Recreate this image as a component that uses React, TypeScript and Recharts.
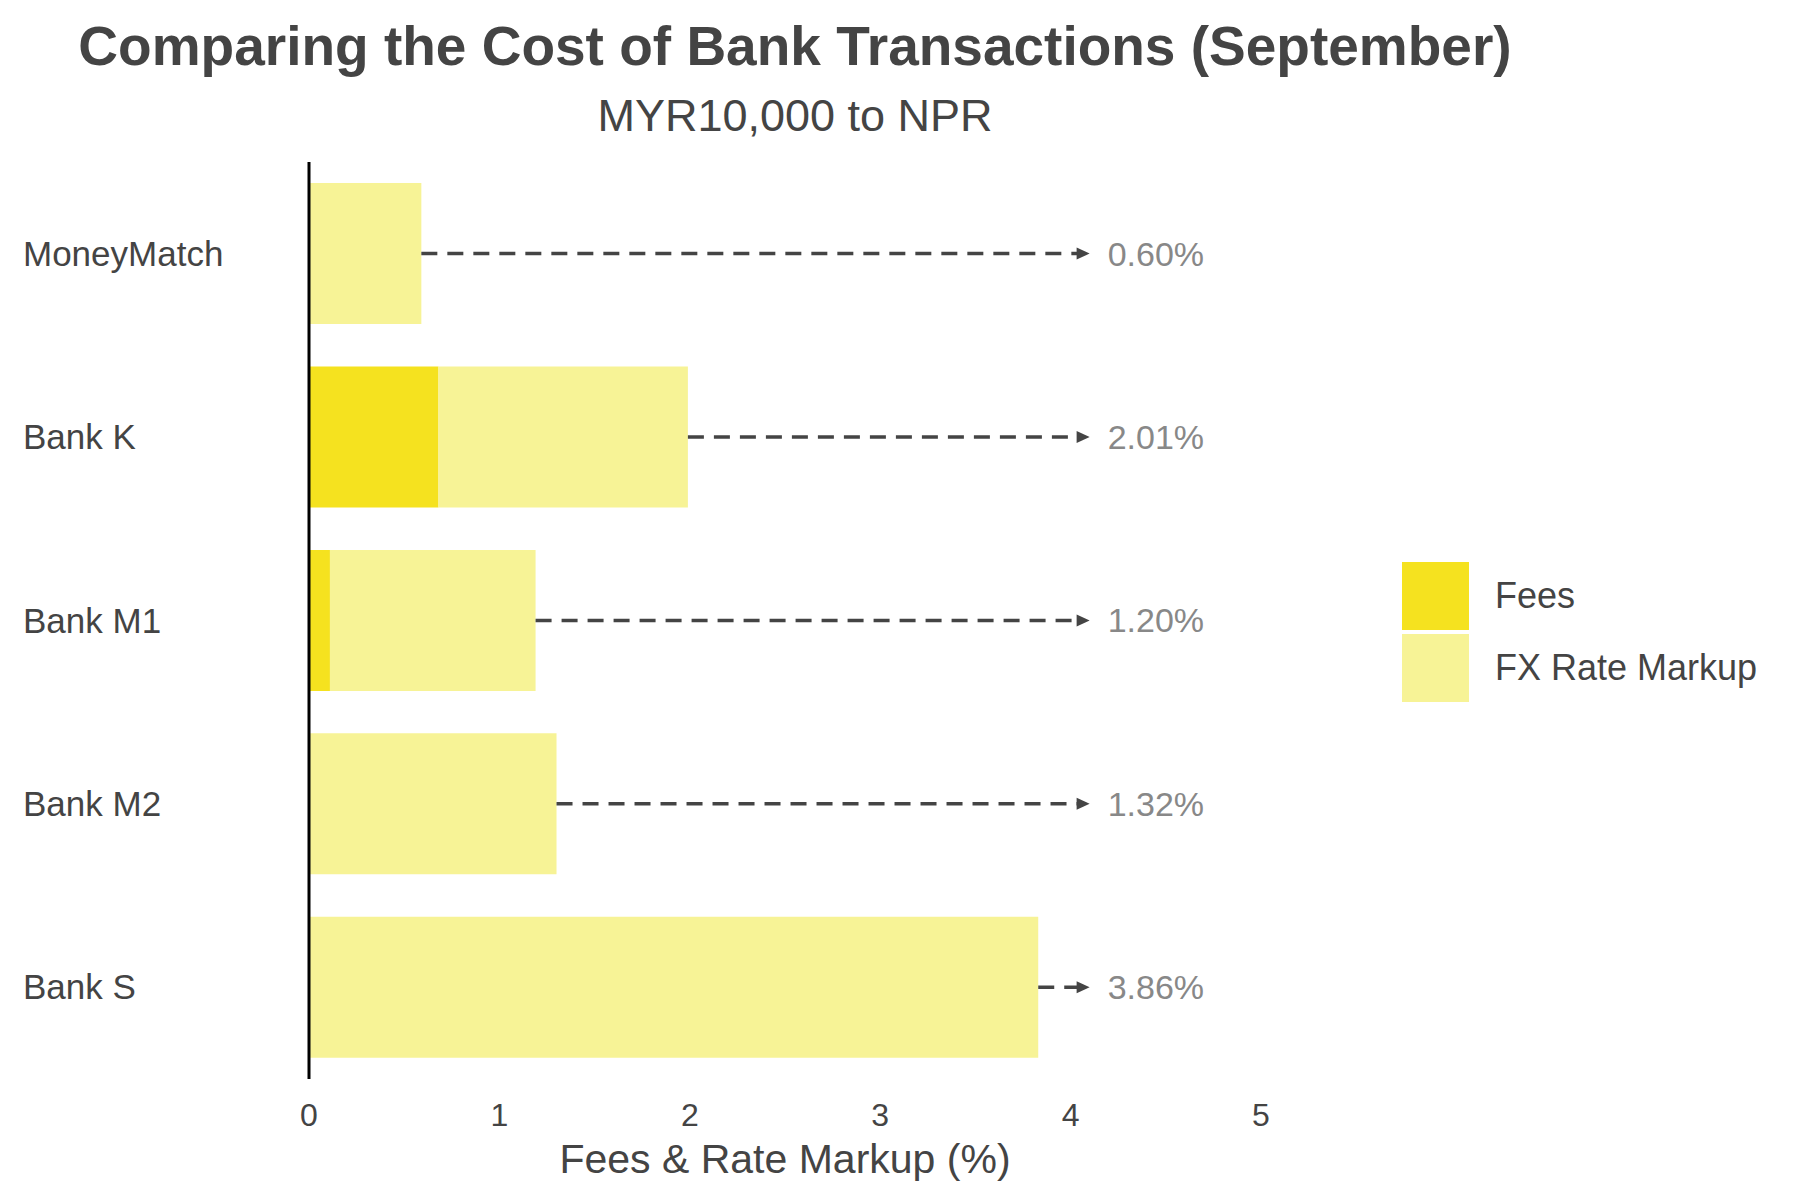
import React from "react";
import { BarChart, Bar, XAxis, YAxis } from "recharts";

const banks = ["MoneyMatch", "Bank K", "Bank M1", "Bank M2", "Bank S"];
const fees = [0, 0.68, 0.11, 0, 0];
const fxMarkup = [0.59, 1.31, 1.08, 1.3, 3.83];
const totalLabels = ["0.60%", "2.01%", "1.20%", "1.32%", "3.86%"];
const arrowEnd = 4.1;

const data = banks.map((name, i) => ({
  name,
  fees: fees[i],
  fx: fxMarkup[i],
  gap: arrowEnd - fees[i] - fxMarkup[i],
  label: totalLabels[i],
}));

const font = "'Liberation Sans', Arial, sans-serif";

const ArrowShape = (props: any) => {
  const { x, y, width, height, payload } = props;
  const cy = y + height / 2;
  const x2 = x + width;
  return (
    <g>
      <line x1={x} y1={cy} x2={x2 - 8} y2={cy} stroke="#444" strokeWidth={3.5} strokeDasharray="16 10" />
      <polygon points={`${x2},${cy} ${x2 - 13},${cy - 6} ${x2 - 13},${cy + 6}`} fill="#444" />
      <text x={x2 + 18} y={cy} dy={12} fontSize={34} fill="#888" fontFamily={font}>
        {payload.label}
      </text>
    </g>
  );
};

const YTick = (props: any) => {
  const { y, payload } = props;
  return (
    <text x={23} y={y} dy={12} fontSize={35} fill="#444" fontFamily={font}>
      {payload.value}
    </text>
  );
};

export default function App() {
  return (
    <div style={{ position: "absolute", left: 0, top: 0, width: 1800, height: 1200, background: "#fff", fontFamily: font }}>
      <div style={{ position: "absolute", top: 14, left: 0, width: 1590, textAlign: "center", fontSize: 55, fontWeight: "bold", color: "#444" }}>
        Comparing the Cost of Bank Transactions (September)
      </div>
      <div style={{ position: "absolute", top: 90, left: 0, width: 1590, textAlign: "center", fontSize: 45, color: "#444" }}>
        MYR10,000 to NPR
      </div>
      <div style={{ position: "absolute", top: 1136, left: 309, width: 952, textAlign: "center", fontSize: 41, color: "#444" }}>
        Fees &amp; Rate Markup (%)
      </div>
      <div style={{ position: "absolute", top: 562, left: 1402, fontSize: 36, color: "#444" }}>
        {[
          ["Fees", "#f5e21f"],
          ["FX Rate Markup", "#f7f396"],
        ].map(([n, c]) => (
          <div key={n} style={{ display: "flex", alignItems: "center", marginBottom: 4 }}>
            <div style={{ width: 67, height: 68, background: c, marginRight: 26 }} />
            <span>{n}</span>
          </div>
        ))}
      </div>
      <BarChart
        width={1800}
        height={1200}
        data={data}
        layout="vertical"
        barCategoryGap="11.5%"
        margin={{ top: 162, right: 539, bottom: 61, left: 9 }}
      >
        <XAxis
          type="number"
          domain={[0, 5]}
          ticks={[0, 1, 2, 3, 4, 5]}
          axisLine={false}
          tickLine={false}
          tick={{ fontSize: 32, fill: "#444", fontFamily: font }}
          tickMargin={18}
          height={60}
        />
        <YAxis
          type="category"
          dataKey="name"
          width={300}
          axisLine={{ stroke: "#000", strokeWidth: 3 }}
          tickLine={false}
          tick={<YTick />}
        />
        <Bar dataKey="fees" stackId="a" fill="#f5e21f" isAnimationActive={false} />
        <Bar dataKey="fx" stackId="a" fill="#f7f396" isAnimationActive={false} />
        <Bar dataKey="gap" stackId="a" fill="none" shape={<ArrowShape />} isAnimationActive={false} />
      </BarChart>
    </div>
  );
}
